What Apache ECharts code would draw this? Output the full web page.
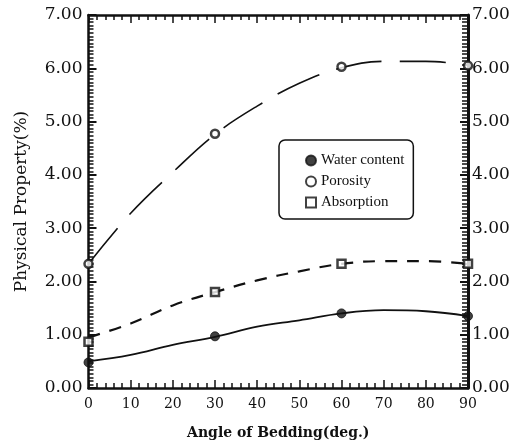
<!DOCTYPE html>
<html>
<head>
<meta charset="utf-8">
<script src="https://cdn.jsdelivr.net/npm/echarts@6/dist/echarts.min.js"></script>
<style>html,body{margin:0;padding:0;background:#fff;}#c{width:516px;height:445px;}</style>
</head>
<body>
<div id="c"></div>
<script>
// Measured points (angle of bedding, deg)
var angles = [0, 30, 60, 90];
var waterContent = [0.48, 0.97, 1.40, 1.35];
var porosity = [2.33, 4.77, 6.03, 6.05];
var absorption = [0.87, 1.80, 2.33, 2.33];

// Fitted curves every 10 degrees
var curveAngles = [0, 10, 20, 30, 40, 50, 60, 70, 80, 90];
var waterCurve = [0.50, 0.62, 0.81, 0.96, 1.15, 1.27, 1.40, 1.46, 1.44, 1.35];
var porosityCurve = [2.33, 3.28, 4.05, 4.76, 5.29, 5.72, 6.01, 6.13, 6.13, 6.06];
var absorptionCurve = [0.95, 1.21, 1.55, 1.80, 2.02, 2.19, 2.33, 2.38, 2.38, 2.33];

var yTicks = ['0.00','1.00','2.00','3.00','4.00','5.00','6.00','7.00'];
var xTitle = 'Angle of Bedding(deg.)';
var yTitle = 'Physical Property(%)';

function pairs(xs, ys) { return xs.map(function (x, i) { return [x, ys[i]]; }); }

var serif = 'DejaVu Serif';
var black = '#111';

function yAxisDef(pos) {
  var left = pos === 'left';
  return {
    type: 'value', position: pos, min: 0, max: 7, interval: 1,
    axisLine: { show: true, onZero: false, lineStyle: { color: black, width: left ? 2.5 : 3 } },
    axisTick: { show: true, inside: true, length: 8, lineStyle: { color: black, width: 2 } },
    minorTick: { show: true, splitNumber: 15, length: left ? 5 : 6, lineStyle: { color: black, width: 1.5 } },
    splitLine: { show: false },
    axisLabel: {
      show: true, margin: left ? 6 : 4, fontFamily: serif, fontSize: 17, color: black,
      formatter: function (v) { return yTicks[Math.round(v)]; }
    },
    name: left ? yTitle : '',
    nameLocation: 'middle', nameGap: 58,
    nameTextStyle: { fontFamily: serif, fontSize: 17, color: black, letterSpacing: 2.2 }
  };
}

function xAxisDef(pos) {
  var bottom = pos === 'bottom';
  return {
    type: 'value', position: pos, min: 0, max: 90, interval: 10,
    axisLine: { show: true, onZero: false, lineStyle: { color: black, width: 2.5 } },
    axisTick: { show: true, inside: true, length: 8, lineStyle: { color: black, width: 1.5 } },
    minorTick: { show: true, splitNumber: 5, length: 5, lineStyle: { color: black, width: 1.5 } },
    splitLine: { show: false },
    axisLabel: { show: bottom, margin: 9, fontFamily: serif, fontSize: 14, color: black },
    name: bottom ? xTitle : '',
    nameLocation: 'middle', nameGap: 38,
    nameTextStyle: { fontFamily: serif, fontSize: 14, color: black, fontWeight: 'bold', letterSpacing: 2 }
  };
}

var chart = echarts.init(document.getElementById('c'), null, { renderer: 'canvas' });
chart.setOption({
  backgroundColor: '#fff',
  animation: false,
  grid: { left: 88.5, right: 48, top: 15, bottom: 55 },
  xAxis: [xAxisDef('bottom'), xAxisDef('top')],
  yAxis: [yAxisDef('left'), yAxisDef('right')],
  legend: {
    orient: 'vertical', left: 279, top: 140,
    padding: [13, 9, 9, 26],
    borderColor: black, borderWidth: 1.5, borderRadius: 6,
    itemWidth: 10, itemHeight: 10, itemGap: 6,
    textStyle: { fontFamily: 'Liberation Serif', fontSize: 15, color: black, lineHeight: 14 },
    data: [
      { name: 'Water content', icon: 'circle' },
      { name: 'Porosity', icon: 'circle' },
      { name: 'Absorption', icon: 'rect' }
    ]
  },
  series: [
    { name: 'Water content curve', type: 'line', smooth: 0.4, showSymbol: false, silent: true,
      lineStyle: { color: black, width: 1.8, type: 'solid' }, data: pairs(curveAngles, waterCurve) },
    { name: 'Absorption curve', type: 'line', smooth: 0.4, showSymbol: false, silent: true,
      lineStyle: { color: black, width: 2.2, type: [12, 10] }, data: pairs(curveAngles, absorptionCurve) },
    { name: 'Porosity curve', type: 'line', smooth: 0.4, showSymbol: false, silent: true,
      lineStyle: { color: black, width: 1.6, type: [46, 18] }, data: pairs(curveAngles, porosityCurve) },
    { name: 'Water content', type: 'scatter', symbol: 'circle', symbolSize: 9,
      itemStyle: { color: black, borderColor: black, borderWidth: 1 }, data: pairs(angles, waterContent), z: 5 },
    { name: 'Porosity', type: 'scatter', symbol: 'circle', symbolSize: 8,
      itemStyle: { color: '#fff', borderColor: black, borderWidth: 2.5 }, data: pairs(angles, porosity), z: 5 },
    { name: 'Absorption', type: 'scatter', symbol: 'rect', symbolSize: 8,
      itemStyle: { color: '#fff', borderColor: black, borderWidth: 2.5 }, data: pairs(angles, absorption), z: 5 }
  ]
});
</script>
</body>
</html>
